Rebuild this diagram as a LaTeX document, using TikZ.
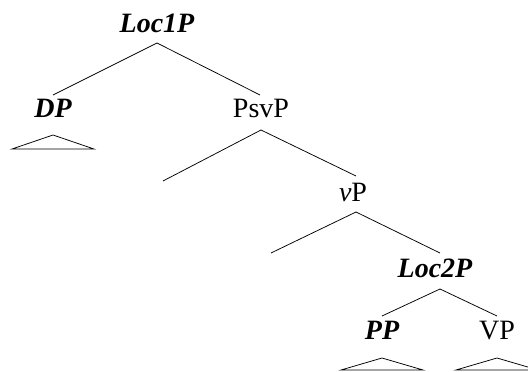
\documentclass[tikz,border=0pt]{standalone}
\usepackage{fontspec}
\setmainfont{Liberation Serif}
\begin{document}
\begin{tikzpicture}[x=1pt,y=-1pt,
  lbl/.style={inner sep=0pt,anchor=base,font=\fontsize{28}{31}\selectfont},
  bi/.style={lbl,font=\fontsize{28}{31}\selectfont\bfseries\itshape},
  branch/.style={draw,line width=0.75pt},
  roof/.style={draw,line width=0.75pt}]
\useasboundingbox (0,0) rectangle (528,372);

% labels
\node[bi]  (loc1) at (157,32)  {Loc1P};
\node[bi]  (dp)   at (53,117)  {DP};
\node[lbl] (psv)  at (261,117) {PsvP};
\node[lbl] (vp)   at (353,201) {\textit{v}P};
\node[bi]  (loc2) at (435,277) {Loc2P};
\node[bi]  (pp)   at (382,339) {PP};
\node[lbl] (vpp)  at (497,339) {VP};

% branch points
\coordinate (loc1-b) at (157,43);
\coordinate (dp-t)   at (53,95);
\coordinate (psv-t)  at (260,95);
\coordinate (psv-b)  at (261,130);
\coordinate (spec1)  at (163,181);
\coordinate (vp-t)   at (356,176);
\coordinate (vp-b)   at (356,212);
\coordinate (spec2)  at (271,253);
\coordinate (loc2-t) at (440,253);
\coordinate (loc2-b) at (440,289);
\coordinate (pp-t)   at (382,316);
\coordinate (vpp-t)  at (497,316);

\draw[branch] (dp-t) -- (loc1-b) -- (psv-t);
\draw[branch] (spec1) -- (psv-b) -- (vp-t);
\draw[branch] (spec2) -- (vp-b) -- (loc2-t);
\draw[branch] (pp-t) -- (loc2-b) -- (vpp-t);

% roofs under phrasal nodes
\draw[roof] (12,149) -- (53,135) -- (94,149) -- cycle;
\draw[roof] (341,370) -- (382,358) -- (423,370) -- cycle;
\draw[roof] (456,370) -- (497,358) -- (538,370) -- cycle;
\end{tikzpicture}
\end{document}
